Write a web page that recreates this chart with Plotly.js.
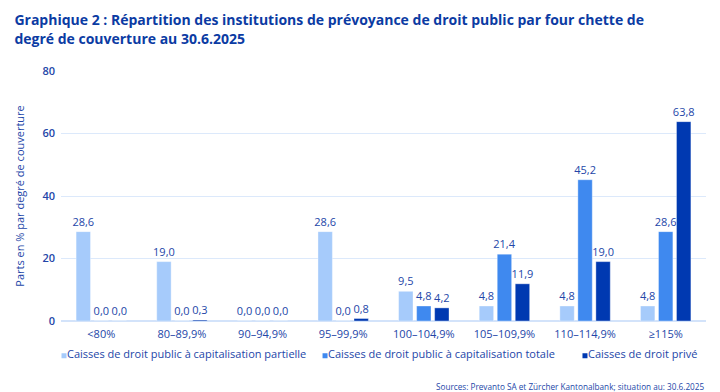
<!DOCTYPE html>
<html>
<head>
<meta charset="utf-8">
<script src="https://cdn.plot.ly/plotly-3.0.1.min.js"></script>
<style>html,body{margin:0;padding:0;background:#fff;}#chart{width:720px;height:392px;}</style>
</head>
<body>
<div id="chart"></div>
<script>
const categories = ["<80%", "80–89,9%", "90–94,9%", "95–99,9%", "100–104,9%", "105–109,9%", "110–114,9%", "≥115%"];
const seriesNames = ["Caisses de droit public à capitalisation partielle", "Caisses de droit public à capitalisation totale", "Caisses de droit privé"];
const partielle = [28.6, 19.0, 0.0, 28.6, 9.5, 4.8, 4.8, 4.8];
const totale = [0.0, 0.0, 0.0, 0.0, 4.8, 21.4, 45.2, 28.6];
const prive = [0.0, 0.3, 0.0, 0.8, 4.2, 11.9, 19.0, 63.8];
const yTicks = [0, 20, 40, 60, 80];

const colors = ["#a6cbfb", "#3f89ef", "#0039b1"];
const textColor = "#2346a8";
const values = [partielle, totale, prive];
const legendIds = ["legend", "legend2", "legend3"];
const legendX = [-0.0527, 0.352, 0.755];

const data = values.map((v, i) => ({
  type: "bar",
  x: categories,
  y: v,
  name: seriesNames[i],
  legend: legendIds[i],
  marker: {color: colors[i], line: {color: "rgba(255,255,255,0.6)", width: 0.6}},
  texttemplate: "%{y:.1f}",
  textposition: "outside",
  constraintext: "none",
  cliponaxis: false,
  textfont: {family: "Open Sans, sans-serif", size: 11, color: textColor},
  showlegend: true,
  hoverinfo: "none"
}));

const legendBase = (x) => ({
  orientation: "h", x: x, xanchor: "left", y: -0.073, yanchor: "top",
  font: {family: "Open Sans, sans-serif", size: 11, color: textColor},
  itemwidth: 30, bgcolor: "rgba(0,0,0,0)"
});

const layout = {
  width: 720, height: 392,
  margin: {l: 61, r: 14, t: 71, b: 71},
  paper_bgcolor: "#fff", plot_bgcolor: "#fff",
  separators: ", ",
  barmode: "group",
  bargap: 0.33,
  bargroupgap: 0.2,
  font: {family: "Open Sans, sans-serif", color: textColor, size: 11},
  title: {
    text: "Graphique 2 : Répartition des institutions de prévoyance de droit public par four chette de<br>degré de couverture au 30.6.2025",
    font: {family: "Open Sans, sans-serif", size: 14, color: "#0b3ba3", weight: "bold"},
    x: 0.02, xanchor: "left", yref: "container", y: 0.935, yanchor: "top"
  },
  xaxis: {
    type: "category",
    tickfont: {size: 11, color: textColor},
    ticklabelstandoff: 5,
    showgrid: false, showline: false, ticks: "", zeroline: false,
    fixedrange: true
  },
  yaxis: {
    range: [0, 80],
    tickvals: yTicks,
    tickfont: {size: 11, color: textColor, weight: 600},
    ticklabelstandoff: 5,
    gridcolor: "#dce9fb", gridwidth: 1,
    zeroline: true, zerolinecolor: "#d3e3fa", zerolinewidth: 2,
    ticks: "", ticklen: 0,
    title: {text: "Parts en % par degré de couverture", font: {size: 11, color: textColor}, standoff: 15},
    fixedrange: true
  },
  legend: legendBase(legendX[0]),
  legend2: legendBase(legendX[1]),
  legend3: legendBase(legendX[2]),
  annotations: [{
    text: "Sources: Prevanto SA et Zürcher Kantonalbank; situation au: 30.6.2025",
    xref: "paper", yref: "paper", x: 1, xanchor: "right", y: -0.23, yanchor: "top",
    showarrow: false, font: {size: 8.2, color: textColor}
  }]
};

Plotly.newPlot("chart", data, layout, {displayModeBar: false, staticPlot: true}).then(() => {
  // small square legend bullets placed just before the legend text, as in the reference
  document.querySelectorAll("#chart g.legendpoints path").forEach(p => {
    p.setAttribute("d", "M2.5,2.5H-2.5V-2.5H2.5Z");
    p.setAttribute("transform", "translate(37,2)");
    p.style.strokeWidth = "0";
  });
});
</script>
</body>
</html>
